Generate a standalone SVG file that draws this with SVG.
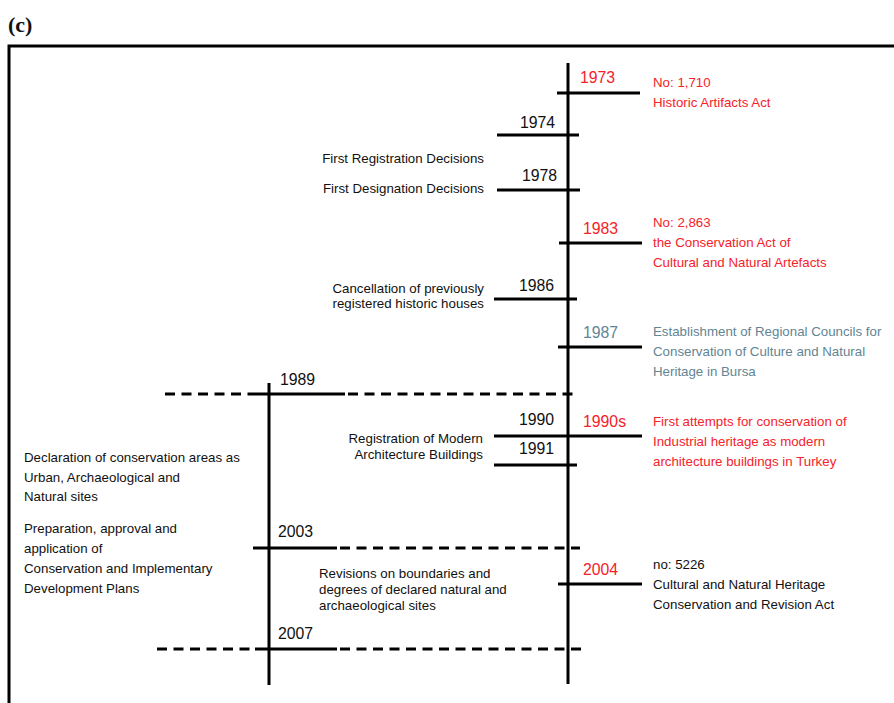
<svg xmlns="http://www.w3.org/2000/svg" width="894" height="703" viewBox="0 0 894 703">
<style>
text{font-family:"Liberation Sans",Arial,sans-serif;font-size:13.3px;fill:#111}
.yr{font-size:15.8px}
.red{fill:#f5222a}
.blue{fill:#628593}
.ln{stroke:#000;stroke-width:3;fill:none}
.ds{stroke:#000;stroke-width:3;fill:none;stroke-dasharray:10 6.5}
.end{text-anchor:end}
</style>
<rect width="894" height="703" fill="#fff"/>
<text x="8" y="32" style="font-family:'Liberation Serif',serif;font-weight:bold;font-size:22px">(c)</text>
<path class="ln" d="M9 703V46H894"/>
<g id="connectors">
<line class="ln" x1="568" y1="63" x2="568" y2="684"/>
<line class="ln" x1="269" y1="383" x2="269" y2="685"/>
<line class="ds" x1="165" y1="394" x2="250" y2="394"/>
<line class="ln" x1="250" y1="394" x2="345" y2="394"/>
<line class="ds" x1="348" y1="394" x2="578" y2="394"/>
<line class="ln" x1="253" y1="548" x2="337" y2="548"/>
<line class="ds" x1="340" y1="548" x2="580" y2="548"/>
<line class="ds" x1="157" y1="649" x2="255" y2="649"/>
<line class="ln" x1="255" y1="649" x2="337" y2="649"/>
<line class="ds" x1="340" y1="649" x2="582" y2="649"/>
</g>
<g id="n1973">
<line class="ln" x1="557" y1="93" x2="640" y2="93"/>
<text class="yr red" x="580" y="83">1973</text>
<text class="red" x="653" y="87">No: 1,710</text>
<text class="red" x="653" y="107">Historic Artifacts Act</text>
</g>
<g id="n1974">
<line class="ln" x1="497" y1="135" x2="579" y2="135"/>
<text class="yr" x="520" y="128">1974</text>
<text class="end" x="484" y="163">First Registration Decisions</text>
</g>
<g id="n1978">
<line class="ln" x1="497" y1="190" x2="580" y2="190"/>
<text class="yr" x="522" y="181">1978</text>
<text class="end" x="484" y="193">First Designation Decisions</text>
</g>
<g id="n1983">
<line class="ln" x1="559" y1="243" x2="642" y2="243"/>
<text class="yr red" x="583" y="234">1983</text>
<text class="red" x="653" y="227">No: 2,863</text>
<text class="red" x="653" y="247">the Conservation Act of</text>
<text class="red" x="653" y="267">Cultural and Natural Artefacts</text>
</g>
<g id="n1986">
<line class="ln" x1="494" y1="299" x2="577" y2="299"/>
<text class="yr" x="519" y="291">1986</text>
<text class="end" x="484" y="293">Cancellation of previously</text>
<text class="end" x="484" y="308">registered historic houses</text>
</g>
<g id="n1987">
<line class="ln" x1="558" y1="347" x2="642" y2="347"/>
<text class="yr blue" x="583" y="338">1987</text>
<text class="blue" x="653" y="336">Establishment of Regional Councils for</text>
<text class="blue" x="653" y="356">Conservation of Culture and Natural</text>
<text class="blue" x="653" y="376">Heritage in Bursa</text>
</g>
<g id="n1989">
<text class="yr" x="280" y="385">1989</text>
</g>
<g id="n1990">
<line class="ln" x1="494" y1="436" x2="642" y2="436"/>
<text class="yr" x="519" y="425">1990</text>
<text class="yr red" x="583" y="427">1990s</text>
<text class="red" x="653" y="426">First attempts for conservation of</text>
<text class="red" x="653" y="446">Industrial heritage as modern</text>
<text class="red" x="653" y="466">architecture buildings in Turkey</text>
<text class="end" x="483" y="443">Registration of Modern</text>
<text class="end" x="483" y="459">Architecture Buildings</text>
</g>
<g id="n1991">
<line class="ln" x1="494" y1="465" x2="577" y2="465"/>
<text class="yr" x="519" y="454">1991</text>
</g>
<g id="left-notes">
<text x="24" y="462">Declaration of conservation areas as</text>
<text x="24" y="482">Urban, Archaeological and</text>
<text x="24" y="501">Natural sites</text>
<text x="24" y="533">Preparation, approval and</text>
<text x="24" y="553">application of</text>
<text x="24" y="573">Conservation and Implementary</text>
<text x="24" y="593">Development Plans</text>
</g>
<g id="n2003">
<text class="yr" x="278" y="537">2003</text>
<text x="319" y="578">Revisions on boundaries and</text>
<text x="319" y="594">degrees of declared natural and</text>
<text x="319" y="610">archaeological sites</text>
</g>
<g id="n2004">
<line class="ln" x1="558" y1="584" x2="642" y2="584"/>
<text class="yr red" x="583" y="575">2004</text>
<text x="653" y="569">no: 5226</text>
<text x="653" y="589">Cultural and Natural Heritage</text>
<text x="653" y="609">Conservation and Revision Act</text>
</g>
<g id="n2007">
<text class="yr" x="278" y="639">2007</text>
</g>
</svg>
